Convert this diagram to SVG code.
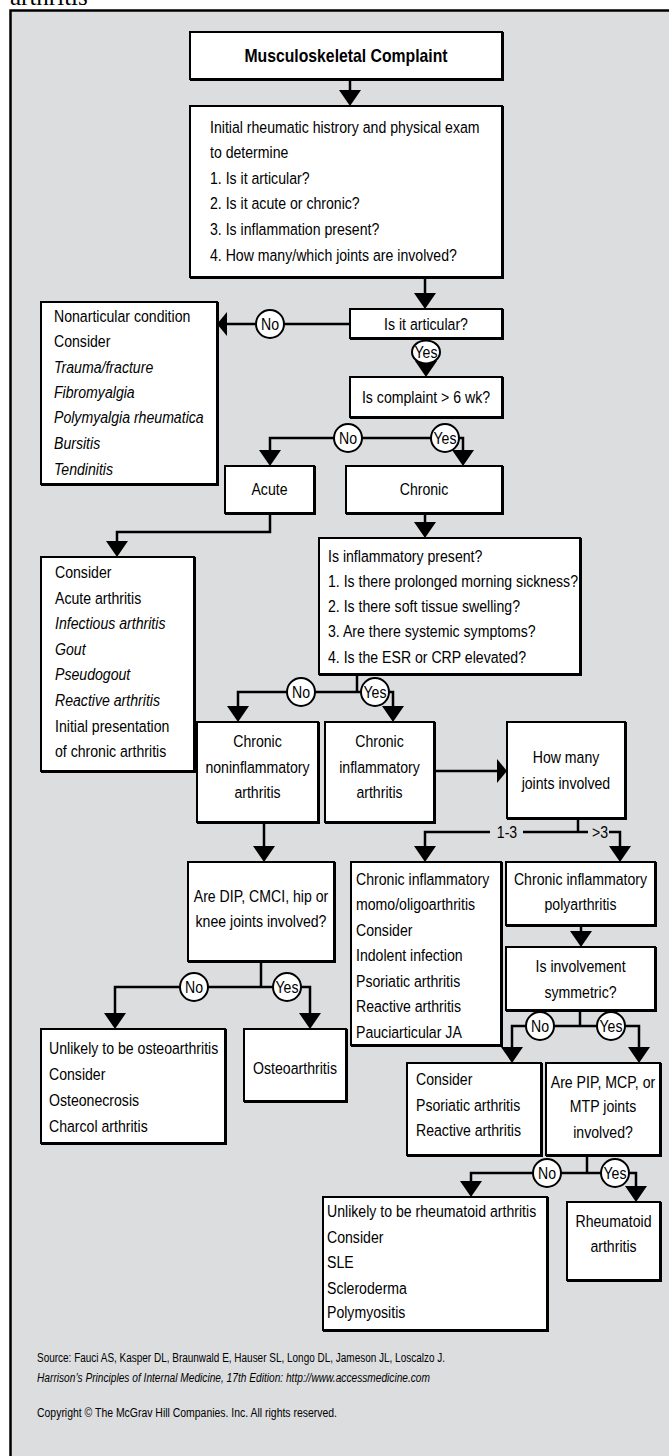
<svg xmlns="http://www.w3.org/2000/svg" width="669" height="1456" viewBox="0 0 669 1456">
<style>
.bg{fill:#dcdddf;stroke:#000;stroke-width:2.5}
.box{fill:#fff;stroke:#000;stroke-width:2;filter:url(#sh)}
.cn{fill:none;stroke:#000;stroke-width:2.5}
.lab circle,.lab ellipse{fill:#fff;stroke:#000;stroke-width:2}
text{font-family:"Liberation Sans",Arial,sans-serif;font-size:17px;fill:#000}
.t{transform-box:fill-box;transform-origin:left center;transform:scaleX(0.83)}
.c{text-anchor:middle;transform-box:fill-box;transform-origin:center;transform:scaleX(0.83)}
.i{font-style:italic}
.b{font-weight:bold;font-size:19px}
.f{font-size:12.5px}
.hd{font-family:"Liberation Serif","Times New Roman",serif;font-size:25px}
</style>
<defs>
<filter id="sh" x="-5%" y="-5%" width="110%" height="110%"><feDropShadow dx="1" dy="1" stdDeviation="0.3" flood-color="#000"/></filter>
<marker id="ad" markerUnits="userSpaceOnUse" markerWidth="16" markerHeight="22" refX="0" refY="11" orient="auto-start-reverse" overflow="visible"><path d="M0,0 L16,11 L0,22 Z" fill="#000"/></marker>
<marker id="ah" markerUnits="userSpaceOnUse" markerWidth="10" markerHeight="24" refX="0" refY="12" orient="auto-start-reverse" overflow="visible"><path d="M0,0 L10,12 L0,24 Z" fill="#000"/></marker>
</defs>
<text class="hd" x="10" y="5">arthritis</text>
<rect class="bg" x="10.5" y="10.5" width="680" height="1470"/>

<g id="connectors">
<path class="cn" d="M350,79 V90" marker-end="url(#ad)"/>
<path class="cn" d="M425,277 V293" marker-end="url(#ad)"/>
<path class="cn" d="M350,324 H227" marker-end="url(#ah)"/>
<path class="cn" d="M426,338 V361" marker-end="url(#ad)"/>
<path class="cn" d="M270,450 V438 H463 V450" marker-start="url(#ad)" marker-end="url(#ad)"/>
<path class="cn" d="M270,513 V532 H117 V541" marker-end="url(#ad)"/>
<path class="cn" d="M425,513 V522" marker-end="url(#ad)"/>
<path class="cn" d="M357,674 V692"/>
<path class="cn" d="M238,706 V692 H393 V706" marker-start="url(#ad)" marker-end="url(#ad)"/>
<path class="cn" d="M434,771 H497" marker-end="url(#ah)"/>
<path class="cn" d="M264,822 V846" marker-end="url(#ad)"/>
<path class="cn" d="M578,818 V832"/>
<path class="cn" d="M425,846 V832 H490" marker-start="url(#ad)"/>
<path class="cn" d="M523,832 H588"/>
<path class="cn" d="M609,832 H620 V846" marker-end="url(#ad)"/>
<path class="cn" d="M581,925 V931" marker-end="url(#ad)"/>
<path class="cn" d="M261,961 V987"/>
<path class="cn" d="M115,1013 V987 H310 V1013" marker-start="url(#ad)" marker-end="url(#ad)"/>
<path class="cn" d="M580,1010 V1026"/>
<path class="cn" d="M512,1047 V1026 H639 V1047" marker-start="url(#ad)" marker-end="url(#ad)"/>
<path class="cn" d="M587,1155 V1173"/>
<path class="cn" d="M471,1181 V1173 H636 V1186" marker-start="url(#ad)" marker-end="url(#ad)"/>
<g class="lab">
<circle cx="270" cy="324" r="14"/><text class="c" x="270" y="330">No</text>
<ellipse cx="426" cy="352" rx="14" ry="11.5"/><text class="c" x="426" y="358">Yes</text>
<circle cx="348" cy="438" r="14"/><text class="c" x="348" y="444">No</text>
<circle cx="445" cy="438" r="14"/><text class="c" x="445" y="444">Yes</text>
<circle cx="301" cy="692" r="14"/><text class="c" x="301" y="698">No</text>
<circle cx="375" cy="692" r="14"/><text class="c" x="375" y="698">Yes</text>
<circle cx="194" cy="987" r="14"/><text class="c" x="194" y="993">No</text>
<circle cx="287" cy="987" r="14"/><text class="c" x="287" y="993">Yes</text>
<circle cx="540" cy="1026" r="14"/><text class="c" x="540" y="1032">No</text>
<circle cx="611" cy="1026" r="14"/><text class="c" x="611" y="1032">Yes</text>
<circle cx="547" cy="1173" r="14"/><text class="c" x="547" y="1179">No</text>
<circle cx="615" cy="1173" r="14"/><text class="c" x="615" y="1179">Yes</text>
</g>
<text class="c" x="507" y="838">1-3</text>
<text class="c" x="600" y="838">&gt;3</text>
</g>

<g id="n_title"><rect class="box" x="190" y="32" width="312" height="47"/><text class="c b" x="346" y="62">Musculoskeletal Complaint</text></g>

<g id="n_history"><rect class="box" x="190" y="106" width="312" height="171"/>
<text class="t" x="210" y="133">Initial rheumatic histrory and physical exam</text>
<text class="t" x="210" y="158">to determine</text>
<text class="t" x="210" y="184">1. Is it articular?</text>
<text class="t" x="210" y="209">2. Is it acute or chronic?</text>
<text class="t" x="210" y="235">3. Is inflammation present?</text>
<text class="t" x="210" y="261">4. How many/which joints are involved?</text></g>

<g id="n_articular"><rect class="box" x="350" y="309" width="152" height="29"/><text class="c" x="426" y="330">Is it articular?</text></g>

<g id="n_nonarticular"><rect class="box" x="41" y="302" width="176" height="182"/>
<text class="t" x="54" y="322">Nonarticular condition</text>
<text class="t" x="54" y="347">Consider</text>
<text class="t i" x="54" y="373">Trauma/fracture</text>
<text class="t i" x="54" y="398">Fibromyalgia</text>
<text class="t i" x="54" y="423">Polymyalgia rheumatica</text>
<text class="t i" x="54" y="449">Bursitis</text>
<text class="t i" x="54" y="475">Tendinitis</text></g>

<g id="n_complaint"><rect class="box" x="350" y="377" width="152" height="40"/><text class="c" x="426" y="403">Is complaint &gt; 6 wk?</text></g>

<g id="n_acute"><rect class="box" x="225" y="466" width="89" height="47"/><text class="c" x="269.5" y="495">Acute</text></g>

<g id="n_chronic"><rect class="box" x="346" y="466" width="156" height="47"/><text class="c" x="424" y="495">Chronic</text></g>

<g id="n_acute_consider"><rect class="box" x="41" y="557" width="153" height="214"/>
<text class="t" x="55" y="578">Consider</text>
<text class="t" x="55" y="603.6">Acute arthritis</text>
<text class="t i" x="55" y="629.2">Infectious arthritis</text>
<text class="t i" x="55" y="654.8">Gout</text>
<text class="t i" x="55" y="680.4">Pseudogout</text>
<text class="t i" x="55" y="706">Reactive arthritis</text>
<text class="t" x="55" y="731.6">Initial presentation</text>
<text class="t" x="55" y="757.2">of chronic arthritis</text></g>

<g id="n_inflam_q"><rect class="box" x="319" y="538" width="261" height="136"/>
<text class="t" x="328" y="562">Is inflammatory present?</text>
<text class="t" x="328" y="587">1. Is there prolonged morning sickness?</text>
<text class="t" x="328" y="612">2. Is there soft tissue swelling?</text>
<text class="t" x="328" y="637">3. Are there systemic symptoms?</text>
<text class="t" x="328" y="663">4. Is the ESR or CRP elevated?</text></g>

<g id="n_chronic_noninf"><rect class="box" x="197" y="722" width="121" height="100"/>
<text class="c" x="257.5" y="747">Chronic</text>
<text class="c" x="257.5" y="773">noninflammatory</text>
<text class="c" x="257.5" y="798">arthritis</text></g>

<g id="n_chronic_inf"><rect class="box" x="325" y="722" width="109" height="100"/>
<text class="c" x="379.5" y="747">Chronic</text>
<text class="c" x="379.5" y="773">inflammatory</text>
<text class="c" x="379.5" y="798">arthritis</text></g>

<g id="n_howmany"><rect class="box" x="507" y="722" width="118" height="96"/>
<text class="c" x="566" y="763">How many</text>
<text class="c" x="566" y="789">joints involved</text></g>

<g id="n_dip"><rect class="box" x="188" y="862" width="146" height="99"/>
<text class="c" x="261" y="902">Are DIP, CMCI, hip or</text>
<text class="c" x="261" y="927">knee joints involved?</text></g>

<g id="n_oligo"><rect class="box" x="351" y="862" width="150" height="183"/>
<text class="t" x="356" y="885">Chronic inflammatory</text>
<text class="t" x="356" y="910.5">momo/oligoarthritis</text>
<text class="t" x="356" y="936">Consider</text>
<text class="t" x="356" y="961.5">Indolent infection</text>
<text class="t" x="356" y="987">Psoriatic arthritis</text>
<text class="t" x="356" y="1012.5">Reactive arthritis</text>
<text class="t" x="356" y="1038">Pauciarticular JA</text></g>

<g id="n_poly"><rect class="box" x="506" y="862" width="149" height="63"/>
<text class="c" x="580.5" y="885">Chronic inflammatory</text>
<text class="c" x="580.5" y="910">polyarthritis</text></g>

<g id="n_symm"><rect class="box" x="506" y="947" width="149" height="63"/>
<text class="c" x="580.5" y="972">Is involvement</text>
<text class="c" x="580.5" y="998">symmetric?</text></g>

<g id="n_unlikely_oa"><rect class="box" x="41" y="1029" width="184" height="114"/>
<text class="t" x="49" y="1054">Unlikely to be osteoarthritis</text>
<text class="t" x="49" y="1080">Consider</text>
<text class="t" x="49" y="1106">Osteonecrosis</text>
<text class="t" x="49" y="1132">Charcol arthritis</text></g>

<g id="n_oa"><rect class="box" x="244" y="1029" width="102" height="72"/>
<text class="c" x="295" y="1074">Osteoarthritis</text></g>

<g id="n_psor"><rect class="box" x="407" y="1063" width="134" height="92"/>
<text class="t" x="416" y="1085">Consider</text>
<text class="t" x="416" y="1111">Psoriatic arthritis</text>
<text class="t" x="416" y="1136">Reactive arthritis</text></g>

<g id="n_pip"><rect class="box" x="546" y="1063" width="114" height="92"/>
<text class="c" x="603" y="1088">Are PIP, MCP, or</text>
<text class="c" x="603" y="1112">MTP joints</text>
<text class="c" x="603" y="1138">involved?</text></g>

<g id="n_unlikely_ra"><rect class="box" x="323" y="1197" width="224" height="133"/>
<text class="t" x="327" y="1217">Unlikely to be rheumatoid arthritis</text>
<text class="t" x="327" y="1243">Consider</text>
<text class="t" x="327" y="1268">SLE</text>
<text class="t" x="327" y="1294">Scleroderma</text>
<text class="t" x="327" y="1318">Polymyositis</text></g>

<g id="n_ra"><rect class="box" x="567" y="1202" width="93" height="78"/>
<text class="c" x="613.5" y="1227">Rheumatoid</text>
<text class="c" x="613.5" y="1252">arthritis</text></g>

<g id="footer">
<text class="f" x="37" y="1362" textLength="408" lengthAdjust="spacingAndGlyphs">Source: Fauci AS, Kasper DL, Braunwald E, Hauser SL, Longo DL, Jameson JL, Loscalzo J.</text>
<text class="f i" x="37" y="1382" textLength="393" lengthAdjust="spacingAndGlyphs">Harrison’s Principles of Internal Medicine, 17th Edition: http://www.accessmedicine.com</text>
<text class="f" x="37" y="1417" textLength="300" lengthAdjust="spacingAndGlyphs">Copyright © The McGrav Hill Companies. Inc. All rights reserved.</text>
</g>
</svg>
